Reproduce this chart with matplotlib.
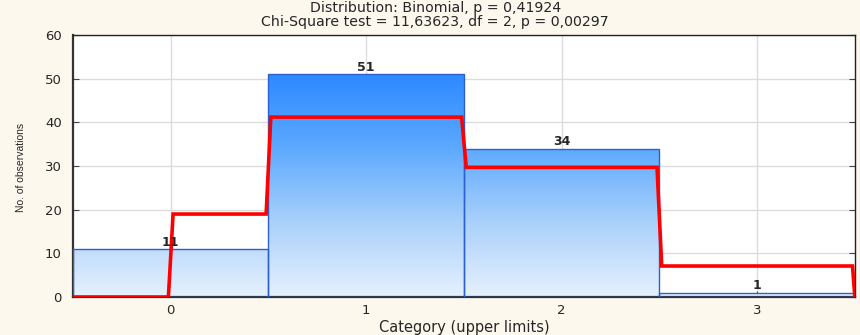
import numpy as np
import matplotlib.pyplot as plt
from matplotlib.colors import LinearSegmentedColormap

plt.rcParams['font.family'] = ['DejaVu Sans']

# Observed counts per category and expected (binomial fit) counts
categorias = [0, 1, 2, 3]
observados = [11, 51, 34, 1]
esperados = [19.0, 41.2, 29.7, 7.1]

titulo1 = 'Distribution: Binomial, p = 0,41924'
titulo2 = 'Chi-Square test = 11,63623, df = 2, p = 0,00297'

fondo = '#fdf8ee'
texto = '#262626'
fig = plt.figure(figsize=(8.6, 3.35), dpi=100, facecolor=fondo)
ax = fig.add_axes([0.0849, 0.1134, 0.9091, 0.7821])
ax.set_facecolor('white')

ax.set_xlim(-0.5, 3.5)
ax.set_ylim(0, 60)
ax.set_xticks(categorias)
ax.set_yticks(np.arange(0, 61, 10))
ax.grid(True, color='#dcdcdc', linewidth=1)
ax.set_axisbelow(True)

# Gradient for the bars (light at the bottom, deep blue higher up)
cmap = LinearSegmentedColormap.from_list('azul', ['#e6f1fd', '#a9d0fb', '#5aa8ff', '#2a88ff'])
grad = np.linspace(0, 1, 256).reshape(-1, 1)

for c, v in zip(categorias, observados):
    barra = ax.bar(c, v, width=1.0, color='none', edgecolor='#2c5fd2', linewidth=1.0, zorder=3)[0]
    img = ax.imshow(grad, extent=[c - 0.5, c + 0.5, 0, 52], origin='lower', cmap=cmap,
                    aspect='auto', zorder=2)
    img.set_clip_path(barra)
    ax.text(c, v + 0.1, str(v), ha='center', va='bottom', fontsize=9,
            color=texto, fontweight='bold', zorder=5)

# Expected counts drawn as a stepped line with slightly slanted risers
bordes = [c - 0.5 for c in categorias] + [categorias[-1] + 0.5]
bordes[0] = categorias[0]
niveles = [0] + esperados + [0]
d = 0.012
xs = [-0.5]
ys = [0]
for i, b in enumerate(bordes):
    xs += [b - d, min(b + d, 3.5)]
    ys += [niveles[i], niveles[i + 1]]
ax.plot(xs, ys, color='#ff0000', linewidth=2.6, zorder=4, solid_joinstyle='miter')

ax.set_xlim(-0.5, 3.5)
ax.set_ylim(0, 60)

for lado in ['left', 'bottom']:
    ax.spines[lado].set_color('#333333')
    ax.spines[lado].set_linewidth(1.6)
for lado in ['top', 'right']:
    ax.spines[lado].set_color('#222222')
    ax.spines[lado].set_linewidth(1.0)

ax.tick_params(axis='both', direction='in', length=4, width=0.8, color='#444444',
               labelsize=9.5, labelcolor=texto, right=True)
ax.tick_params(axis='y', pad=8)
ax.tick_params(axis='x', pad=5)

ax.set_xlabel('Category (upper limits)', fontsize=10.5, color=texto, labelpad=2)
fig.text(0.024, 0.5, 'No. of observations', rotation=90, ha='center', va='center',
         fontsize=7.5, color=texto, family=['Liberation Sans', 'DejaVu Sans'])

fig.text(0.506, 0.977, titulo1, ha='center', va='center', fontsize=10.2, color=texto)
fig.text(0.506, 0.934, titulo2, ha='center', va='center', fontsize=10.2, color=texto)

fig.savefig('out.png', dpi=100, facecolor=fondo)
